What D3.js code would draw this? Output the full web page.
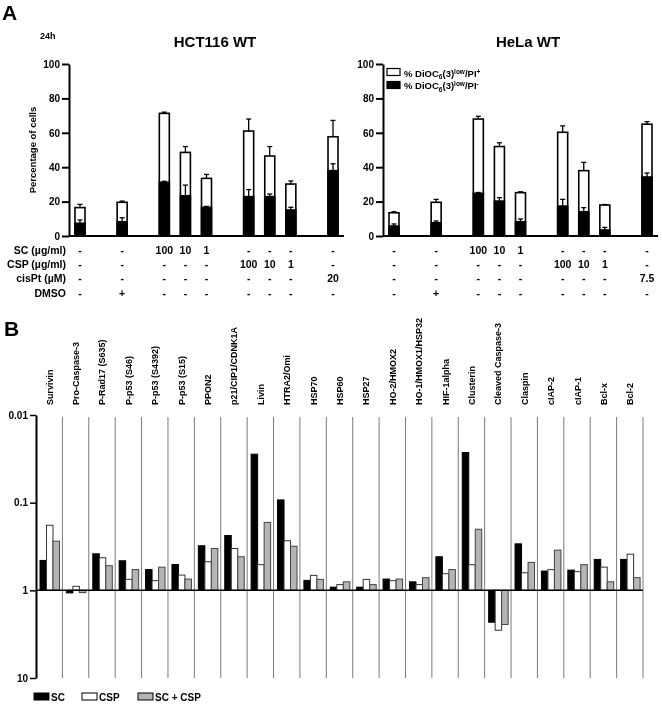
<!DOCTYPE html>
<html>
<head>
<meta charset="utf-8">
<script src="https://cdn.jsdelivr.net/npm/d3@7"></script>
<style>
  body { margin: 0; background: #fff; }
  svg { will-change: transform; }
  svg text { font-family: "Liberation Sans", Arial, sans-serif; font-weight: bold; fill: #000; }
</style>
</head>
<body>
<svg id="chart" width="662" height="704"></svg>
<script>
// ---- panel A data ----
// conditions, grouped (gaps drawn between groups)
const conditionGroups = [["ctrl"], ["DMSO"], ["SC100", "SC10", "SC1"], ["CSP100", "CSP10", "CSP1"], ["cisPt"]];
const rowLabels = ["SC (\u00b5g/ml)", "CSP (\u00b5g/ml)", "cisPt (\u00b5M)", "DMSO"];
const rowSC = ["-", "-", "100", "10", "1", "-", "-", "-", "-"];
const rowCSP = ["-", "-", "-", "-", "-", "100", "10", "1", "-"];
const rowCisPtHCT = ["-", "-", "-", "-", "-", "-", "-", "-", "20"];
const rowCisPtHeLa = ["-", "-", "-", "-", "-", "-", "-", "-", "7.5"];
const rowDMSO = ["-", "+", "-", "-", "-", "-", "-", "-", "-"];

// HCT116 WT: total (PI+ stacked on PI-), and PI- part, with error
const hctTotal = [16.5, 19.6, 71.3, 48.6, 33.5, 61, 46.5, 30.2, 57.7];
const hctTotalErr = [1.9, 0.7, 0.7, 3.4, 2.3, 7, 5.5, 1.8, 9.5];
const hctLow = [7.4, 8.3, 31.2, 23.4, 16.7, 22.9, 22.9, 15.1, 38];
const hctLowErr = [1.9, 2.3, 0.6, 6.2, 0.5, 4.1, 1.5, 1.6, 4];

// HeLa WT
const helaTotal = [13.5, 19.6, 68, 52, 25.2, 60.3, 38, 18, 65];
const helaTotalErr = [0.6, 1.7, 1.6, 2.2, 0.5, 3.7, 4.8, 0.3, 1.5];
const helaLow = [5.8, 7.7, 24.8, 20.3, 8.3, 17.4, 14.1, 3.5, 34.3];
const helaLowErr = [1.2, 1, 0.5, 2, 1.6, 3.9, 2.4, 1.5, 2.3];

const yTicksA = [0, 20, 40, 60, 80, 100];

// ---- panel B data ----
const proteins = ["Survivin", "Pro-Caspase-3", "P-Rad17 (S635)", "P-p53 (S46)", "P-p53 (S4392)", "P-p53 (S15)",
  "PPON2", "p21/CIP1/CDNK1A", "Livin", "HTRA2/Omi", "HSP70", "HSP60", "HSP27", "HO-2/HMOX2",
  "HO-1/HMOX1/HSP32", "HIF-1alpha", "Clusterin", "Cleaved Caspase-3", "Claspin", "cIAP-2", "cIAP-1", "Bcl-x", "Bcl-2"];
const seriesB = ["SC", "CSP", "SC + CSP"];
const valSC = [0.456, 1.07, 0.383, 0.46, 0.58, 0.507, 0.31, 0.237, 0.028, 0.093, 0.77, 0.92, 0.92, 0.744,
  0.80, 0.414, 0.0268, 2.31, 0.295, 0.603, 0.588, 0.444, 0.444];
const valCSP = [0.181, 0.9, 0.425, 0.75, 0.776, 0.67, 0.472, 0.333, 0.51, 0.272, 0.675, 0.86, 0.75, 0.776,
  0.86, 0.646, 0.51, 2.85, 0.63, 0.58, 0.613, 0.544, 0.387];
const valBoth = [0.275, 1.06, 0.524, 0.58, 0.544, 0.744, 0.333, 0.414, 0.168, 0.314, 0.75, 0.80, 0.86, 0.744,
  0.717, 0.58, 0.201, 2.45, 0.48, 0.348, 0.51, 0.80, 0.717];
const yTicksB = [0.01, 0.1, 1, 10];

const svg = d3.select("#chart");
svg.append("rect").attr("width", 662).attr("height", 704).attr("fill", "#fff");

// panel letters
svg.append("text").attr("x", 2).attr("y", 20).attr("font-size", 21).text("A");
svg.append("text").attr("x", 4).attr("y", 336).attr("font-size", 21).text("B");
svg.append("text").attr("x", 40).attr("y", 39).attr("font-size", 9).text("24h");

// build slot list with gaps between groups
const slots = [];
conditionGroups.forEach((g, i) => {
  g.forEach(c => slots.push(c));
  if (i < conditionGroups.length - 1) slots.push("gap" + i);
});
const conditions = conditionGroups.flat();

const yA = d3.scaleLinear().domain([0, 100]).range([236, 64]);

// draw one panel A chart
const drawPanelA = function(x0, title, titleX, total, totalErr, low, lowErr, cisRow, showTitleY) {
  const g = svg.append("g");
  const x = d3.scaleBand().domain(slots).range([x0, x0 + 275]).paddingInner(0.526).paddingOuter(0.284);

  g.append("text").attr("x", titleX).attr("y", 47).attr("text-anchor", "middle")
    .attr("font-size", 15).text(title);

  // y axis
  const ax = g.append("g").attr("transform", `translate(${x0},0)`)
    .call(d3.axisLeft(yA).tickValues(yTicksA).tickSize(7).tickSizeOuter(0).tickPadding(2));
  ax.select(".domain").attr("stroke", "#000").attr("stroke-width", 2);
  ax.selectAll(".tick line").attr("stroke", "#000").attr("stroke-width", 2);
  ax.selectAll(".tick text").attr("font-size", 10).attr("font-family", null);

  if (showTitleY) {
    g.append("text").attr("transform", "translate(36,150) rotate(-90)").attr("text-anchor", "middle")
      .attr("font-size", 9.5).text("Percentage of cells");
  }

  const bw = x.bandwidth();
  const rows = conditions.map((c, i) => ({ c: c, total: total[i], te: totalErr[i], low: low[i], le: lowErr[i] }));

  // error bar: stem from bar top plus cap
  const errLine = (sel, key, errKey) => {
    sel.append("line")
      .attr("x1", d => x(d.c) + bw / 2).attr("x2", d => x(d.c) + bw / 2)
      .attr("y1", d => yA(d[key])).attr("y2", d => yA(d[key] + d[errKey]))
      .attr("stroke", "#000").attr("stroke-width", 1.3);
    sel.append("line")
      .attr("x1", d => x(d.c) + bw / 2 - 2.5).attr("x2", d => x(d.c) + bw / 2 + 2.5)
      .attr("y1", d => yA(d[key] + d[errKey])).attr("y2", d => yA(d[key] + d[errKey]))
      .attr("stroke", "#000").attr("stroke-width", 1.3);
  };

  const bars = g.selectAll(".bar").data(rows).enter().append("g");
  errLine(bars, "total", "te");
  bars.append("rect")
    .attr("x", d => x(d.c)).attr("width", bw)
    .attr("y", d => yA(d.total)).attr("height", d => yA(0) - yA(d.total))
    .attr("fill", "#fff").attr("stroke", "#000").attr("stroke-width", 1.6);
  bars.append("rect")
    .attr("x", d => x(d.c)).attr("width", bw)
    .attr("y", d => yA(d.low)).attr("height", d => yA(0) - yA(d.low))
    .attr("fill", "#000").attr("stroke", "#000").attr("stroke-width", 1.6);
  errLine(bars, "low", "le");

  // x axis line
  g.append("line").attr("x1", x0).attr("x2", x0 + 275).attr("y1", yA(0)).attr("y2", yA(0))
    .attr("stroke", "#000").attr("stroke-width", 2);

  // treatment table
  const tableRows = [rowSC, rowCSP, cisRow, rowDMSO];
  tableRows.forEach((r, ri) => {
    g.selectAll(null).data(r).enter().append("text")
      .attr("x", (d, i) => x(conditions[i]) + bw / 2)
      .attr("y", 253.5 + ri * 14.4)
      .attr("text-anchor", "middle").attr("font-size", 10.5)
      .text(d => d);
  });
  return x;
};

drawPanelA(69, "HCT116 WT", 215, hctTotal, hctTotalErr, hctLow, hctLowErr, rowCisPtHCT, true);
drawPanelA(383, "HeLa WT", 528, helaTotal, helaTotalErr, helaLow, helaLowErr, rowCisPtHeLa, false);

rowLabels.forEach((l, i) => {
  svg.append("text").attr("x", 66).attr("y", 253.5 + i * 14.4).attr("text-anchor", "end")
    .attr("font-size", 10.5).text(l);
});

// legend A
const legA = svg.append("g").attr("font-size", 9.5);
legA.append("rect").attr("x", 387).attr("y", 68.5).attr("width", 13).attr("height", 7)
  .attr("fill", "#fff").attr("stroke", "#000").attr("stroke-width", 1.2);
legA.append("rect").attr("x", 387).attr("y", 81.5).attr("width", 13).attr("height", 7)
  .attr("fill", "#000").attr("stroke", "#000").attr("stroke-width", 1.2);
[["+", 76.5], ["-", 89]].forEach(([sign, yy]) => {
  const t = legA.append("text").attr("x", 404).attr("y", yy);
  t.append("tspan").text("% DiOC");
  t.append("tspan").attr("font-size", 6.5).attr("dy", 2.5).text("6");
  t.append("tspan").attr("dy", -2.5).text("(3)");
  t.append("tspan").attr("font-size", 6.5).attr("dy", -3).text("low");
  t.append("tspan").attr("dy", 3).text("/PI");
  t.append("tspan").attr("font-size", 6.5).attr("dy", -3).text(sign);
});

// ---- panel B ----
const xB = d3.scaleBand().domain(proteins).range([36, 643]);
const xS = d3.scaleBand().domain(seriesB).range([4, 23.5]);
const yB = d3.scaleLog().domain([0.01, 10]).range([415, 678]);
const fills = { "SC": "#000", "CSP": "#fff", "SC + CSP": "#b5b5b5" };
const strokes = { "SC": "#000", "CSP": "#333", "SC + CSP": "#444" };

// group dividers
svg.append("g").selectAll("line").data(proteins).enter().append("line")
  .attr("x1", d => xB(d) + xB.bandwidth()).attr("x2", d => xB(d) + xB.bandwidth())
  .attr("y1", 417).attr("y2", 678)
  .attr("stroke", "#7a7a7a").attr("stroke-width", 1);

// labels
svg.append("g").selectAll("text").data(proteins).enter().append("text")
  .attr("transform", d => `translate(${xB(d) + xB.bandwidth() / 2 + 3.5},405) rotate(-90)`)
  .attr("font-size", 9).text(d => d);

// bars
const bData = [];
proteins.forEach((p, i) => {
  bData.push({ p: p, s: "SC", v: valSC[i] });
  bData.push({ p: p, s: "CSP", v: valCSP[i] });
  bData.push({ p: p, s: "SC + CSP", v: valBoth[i] });
});
svg.append("g").selectAll("rect").data(bData).enter().append("rect")
  .attr("x", d => xB(d.p) + xS(d.s))
  .attr("width", xS.bandwidth())
  .attr("y", d => Math.min(yB(d.v), yB(1)))
  .attr("height", d => Math.abs(yB(d.v) - yB(1)))
  .attr("fill", d => fills[d.s]).attr("stroke", d => strokes[d.s]).attr("stroke-width", 1);

// baseline at 1
svg.append("line").attr("x1", 36).attr("x2", 643).attr("y1", yB(1)).attr("y2", yB(1))
  .attr("stroke", "#000").attr("stroke-width", 1.5);

// y axis B
const axB = svg.append("g").attr("transform", "translate(36,0)")
  .call(d3.axisLeft(yB).tickValues(yTicksB).tickFormat(d => String(d)).tickSize(6).tickSizeOuter(0).tickPadding(2));
axB.select(".domain").attr("stroke", "#000").attr("stroke-width", 2);
axB.selectAll(".tick line").attr("stroke", "#000").attr("stroke-width", 1.5);
axB.selectAll(".tick text").attr("font-size", 10).attr("font-family", null);

// legend B
const legB = svg.append("g");
const legX = [34, 82, 138];
seriesB.forEach((s, i) => {
  legB.append("rect").attr("x", legX[i]).attr("y", 693).attr("width", 15).attr("height", 7)
    .attr("fill", fills[s]).attr("stroke", "#000").attr("stroke-width", 1);
  legB.append("text").attr("x", legX[i] + 17).attr("y", 701).attr("font-size", 10).text(s);
});
</script>
</body>
</html>
